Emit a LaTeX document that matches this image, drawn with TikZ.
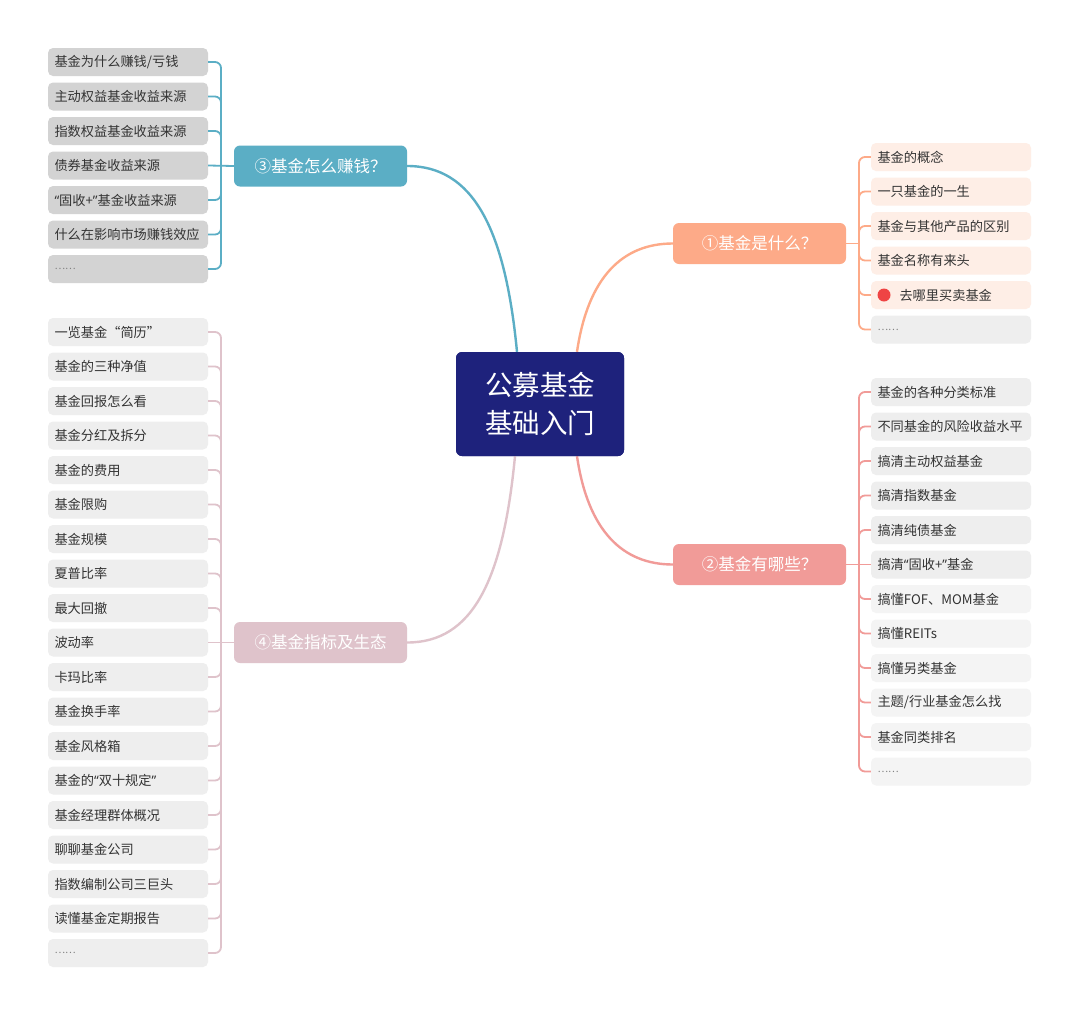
\documentclass[tikz,border=0pt]{standalone}
\usepackage{fontspec}
\setmainfont{Noto Sans CJK SC}
\newfontfamily\qfont{Noto Sans}
\newcommand{\qopen}{{\qfont “}}
\newcommand{\qclose}{{\qfont ”}}
\usetikzlibrary{calc}
\definecolor{cthree}{HTML}{5BAEC5}
\definecolor{cone}{HTML}{FDAA88}
\definecolor{ctwo}{HTML}{F19B98}
\definecolor{cfour}{HTML}{DFC3CB}
\definecolor{navy}{HTML}{1E227C}
\definecolor{leafA}{HTML}{D3D3D3}
\definecolor{leafP}{HTML}{FEEEE6}
\definecolor{leafG}{HTML}{EEEEEE}
\definecolor{leafL}{HTML}{F4F4F4}
\definecolor{txt}{HTML}{333333}
\definecolor{dotred}{HTML}{EF4444}
\newcommand{\moredots}{{\color{gray}\fontsize{10}{12}\selectfont ……}}
\begin{document}
\begin{tikzpicture}[x=1pt,y=-1pt,
  leaf/.style={rounded corners=5pt, minimum height=28pt, text width=147pt, inner xsep=6.5pt, inner ysep=0pt, align=left, font=\fontsize{13.2}{15}\selectfont, text=txt},
  branch/.style={rounded corners=6pt, minimum width=173pt, minimum height=41pt, inner sep=0pt, text=white, font=\fontsize{16.5}{19}\selectfont},
  link/.style={line width=2.4pt},
  brk/.style={line width=1.8pt, rounded corners=6pt}]
\useasboundingbox[fill=white] (0,0) rectangle (1080,1015);

% center
\node[fill=navy, rounded corners=6pt, minimum width=168pt, minimum height=104pt, inner sep=0pt, text=white, align=center, font=\fontsize{27.5}{38}\selectfont] (ctr) at (540,404) {公募基金\\基础入门};

% branch nodes
\node[branch, fill=cthree] (m3) at (320.5,166) {③基金怎么赚钱？};
\node[branch, fill=cone] (m1) at (759.5,243.5) {①基金是什么？};
\node[branch, fill=ctwo] (m2) at (759.5,564.5) {②基金有哪些？};
\node[branch, fill=cfour] (m4) at (320.5,642.5) {④基金指标及生态};

% group 3 leaves
\foreach \t [count=\i from 0] in {基金为什么赚钱/亏钱,主动权益基金收益来源,指数权益基金收益来源,债券基金收益来源,\qopen 固收+\qclose 基金收益来源,什么在影响市场赚钱效应}
  \node[leaf, fill=leafA] (c\i) at (128,62+34.5*\i) {\t};
\node[leaf, fill=leafA] (c6) at (128,62+34.5*6) {\moredots};

% group 1 leaves
\foreach \t [count=\i from 0] in {基金的概念,一只基金的一生,基金与其他产品的区别,基金名称有来头}
  \node[leaf, fill=leafP] (a\i) at (951,157+34.5*\i) {\t};
\node[leaf, fill=leafP] (a4) at (951,157+34.5*4) {\hspace*{22pt}去哪里买卖基金};
\node[circle, fill=dotred, minimum size=13pt, inner sep=0pt] (dot) at (884,295) {};
\node[leaf, fill=leafG] (a5) at (951,157+34.5*5) {\moredots};

% group 2 leaves
\foreach \t [count=\i from 0] in {基金的各种分类标准,不同基金的风险收益水平,搞清主动权益基金,搞清指数基金,搞清纯债基金,搞清\qopen 固收+\qclose 基金}
  \node[leaf, fill=leafG] (b\i) at (951,392+34.5*\i) {\t};
\foreach \t [count=\i from 6] in {搞懂FOF、MOM基金,搞懂REITs,搞懂另类基金,主题/行业基金怎么找,基金同类排名}
  \node[leaf, fill=leafL] (b\i) at (951,392+34.5*\i) {\t};
\node[leaf, fill=leafL] (b11) at (951,392+34.5*11) {\moredots};

% group 4 leaves
\foreach \t [count=\i from 0] in {一览基金“简历”,基金的三种净值,基金回报怎么看,基金分红及拆分,基金的费用,基金限购,基金规模,夏普比率,最大回撤,波动率,卡玛比率,基金换手率,基金风格箱,基金的\qopen 双十规定\qclose,基金经理群体概况,聊聊基金公司,指数编制公司三巨头,读懂基金定期报告}
  \node[leaf, fill=leafG] (d\i) at (128,332+34.5*\i) {\t};
\node[leaf, fill=leafG] (d18) at (128,332+34.5*18) {\moredots};

% bracket coordinates
\coordinate (k3) at (221,166);
\coordinate (k1) at (859,243.5);
\coordinate (k2) at (859,564.5);
\coordinate (k4) at (221,642.5);

% group 3 brackets
\foreach \i in {0,1,2,4,5,6}
  \draw[brk, cthree] (c\i.east) -- (c\i.east -| k3) -- (k3 |- m3.west);
\draw[brk, cthree] (m3.west) -- (c3.east);

% group 1 brackets
\foreach \i in {0,...,5}
  \draw[brk, cone] (a\i.west) -- (a\i.west -| k1) -- (k1 |- m1.east);
\draw[brk, cone] (m1.east) -- (k1);

% group 2 brackets
\foreach \i in {0,1,2,3,4,6,7,8,9,10,11}
  \draw[brk, ctwo] (b\i.west) -- (b\i.west -| k2) -- (k2 |- m2.east);
\draw[brk, ctwo] (m2.east) -- (b5.west);

% group 4 brackets
\foreach \i in {0,...,8,10,11,...,18}
  \draw[brk, cfour] (d\i.east) -- (d\i.east -| k4) -- (k4 |- m4.west);
\draw[brk, cfour] (m4.west) -- (d9.east);

% main connectors
\draw[link, cthree] ($(ctr.north)+(-23,0)$) .. controls ($(ctr.north)+(-35,-125)$) and ($(m3.east)+(65,0)$) .. (m3.east);
\draw[link, cone] ($(ctr.north)+(37,0)$) .. controls ($(ctr.north)+(48,-75)$) and ($(m1.west)+(-50,0)$) .. (m1.west);
\draw[link, ctwo] ($(ctr.south)+(37,0)$) .. controls ($(ctr.south)+(48,75)$) and ($(m2.west)+(-50,0)$) .. (m2.west);
\draw[link, cfour] ($(ctr.south)+(-25,0)$) .. controls ($(ctr.south)+(-37,125)$) and ($(m4.east)+(65,0)$) .. (m4.east);

% redraw center above connectors
\node[fill=navy, rounded corners=6pt, minimum width=168pt, minimum height=104pt, inner sep=0pt, text=white, align=center, font=\fontsize{27.5}{38}\selectfont] at (ctr) {公募基金\\基础入门};
\end{tikzpicture}
\end{document}
